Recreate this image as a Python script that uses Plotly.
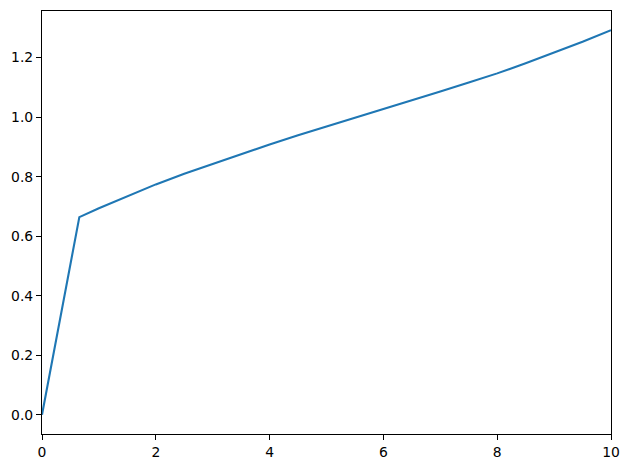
import plotly.graph_objects as go

x_vals = [0, 0.656, 1.0, 1.5, 2.0, 2.5, 3.0, 3.5, 4.0, 4.5, 5.0, 5.5, 6.0, 6.5, 7.0, 7.5, 8.0, 8.5, 9.0, 9.5, 10.0]
y_vals = [0, 0.664, 0.694, 0.735, 0.774, 0.810, 0.843, 0.876, 0.908, 0.939, 0.968, 0.997, 1.026, 1.056, 1.086, 1.116, 1.147, 1.181, 1.216, 1.253, 1.292]
x_ticks = [0, 2, 4, 6, 8, 10]
y_ticks = [0.0, 0.2, 0.4, 0.6, 0.8, 1.0, 1.2]
y_tick_text = ["0.0", "0.2", "0.4", "0.6", "0.8", "1.0", "1.2"]

fig = go.Figure()
fig.add_trace(go.Scatter(x=x_vals, y=y_vals, mode="lines",
                         line=dict(color="#1f77b4", width=2.1)))

ymin, ymax = min(y_vals), max(y_vals)
pad = (ymax - ymin) * 0.05

axis_common = dict(showline=True, mirror=True, linecolor="black", linewidth=1.1,
                   ticks="outside", ticklen=5, tickwidth=1.1, tickcolor="black",
                   showgrid=False, zeroline=False,
                   tickfont=dict(family="DejaVu Sans", size=13.9, color="black"))

fig.update_layout(
    width=630, height=470,
    margin=dict(l=42, r=19, t=10, b=34),
    paper_bgcolor="white", plot_bgcolor="white",
    showlegend=False,
    xaxis=dict(range=[0, 10], tickvals=x_ticks, ticktext=[str(t) for t in x_ticks], **axis_common),
    yaxis=dict(range=[ymin - pad, ymax + pad], tickvals=y_ticks, ticktext=y_tick_text, **axis_common),
)

fig.write_html("out.html", config={"displayModeBar": False},
               post_script="document.body.style.margin='0';")
